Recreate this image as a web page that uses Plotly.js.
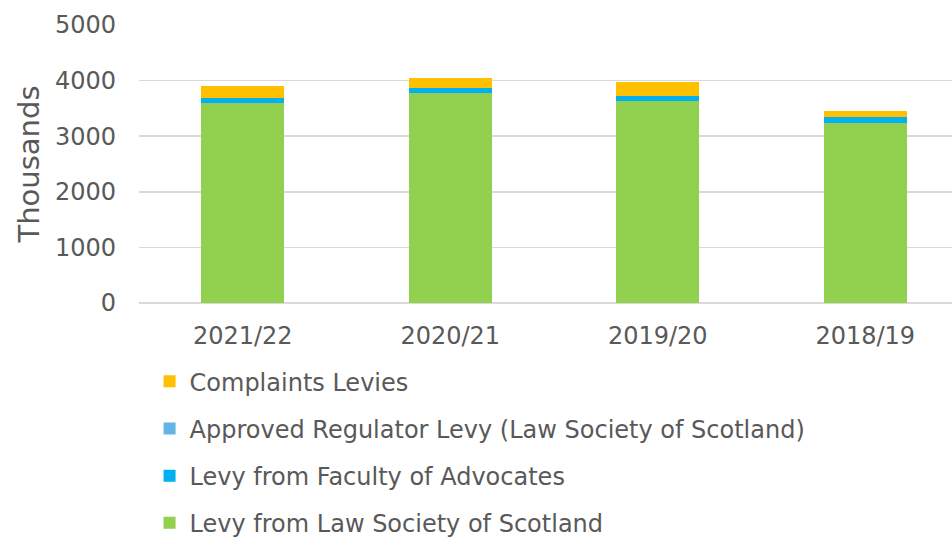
<!DOCTYPE html>
<html>
<head>
<meta charset="utf-8">
<script src="https://cdn.plot.ly/plotly-3.0.1.min.js"></script>
<style>html,body{margin:0;padding:0;background:#fff;}#chart{width:952px;height:539px;}</style>
</head>
<body>
<div id="chart"></div>
<script>
var years = ["2021/22", "2020/21", "2019/20", "2018/19"];
var lawSociety = [3603, 3782, 3638, 3243];
var faculty = [77, 77, 77, 95];
var approvedRegulator = [8, 8, 8, 8];
var complaints = [208, 172, 256, 112];

var font = "DejaVu Sans, Verdana, sans-serif";
var textColor = "#595959";

function mk(name, vals, color, grp, rank) {
  return {type: "bar", name: name, x: years, y: vals, legendgroup: grp, legendrank: rank,
    marker: {color: color, line: {width: 0}}, width: 0.4, hoverinfo: "y+name"};
}
var data = [
  mk("Levy from Law Society of Scotland", lawSociety, "#92D050", "a", 4),
  mk("Levy from Faculty of Advocates", faculty, "#00B0F0", "b", 3),
  mk("Approved Regulator Levy (Law Society of Scotland)", approvedRegulator, "#62B5E5", "c", 2),
  mk("Complaints Levies", complaints, "#FFC000", "d", 1)
];
var layout = {
  width: 952, height: 539,
  margin: {l: 139, r: 0, t: 25, b: 236, autoexpand: false},
  barmode: "stack",
  paper_bgcolor: "#fff", plot_bgcolor: "#fff",
  font: {family: font, color: textColor, size: 24},
  xaxis: {type: "category", range: [-0.5, 3.418], showgrid: false, zeroline: false,
    showline: false, ticks: "", tickfont: {size: 24, color: textColor}, ticklabelstandoff: 16},
  yaxis: {range: [0, 5000], dtick: 1000, tick0: 0, showgrid: true, gridcolor: "#D9D9D9", gridwidth: 1.5,
    zeroline: true, zerolinecolor: "#D9D9D9", zerolinewidth: 1.5, showline: false, ticks: "",
    tickfont: {size: 24, color: textColor}, ticklabelstandoff: 22,
    title: {text: "Thousands", font: {size: 29, color: textColor}, standoff: 6}},
  showlegend: true,
  legend: {orientation: "v", x: 0.013, xanchor: "left", y: -0.202, yanchor: "top",
    traceorder: "grouped", tracegroupgap: 13, font: {size: 24, color: textColor},
    bgcolor: "rgba(0,0,0,0)"}
};
Plotly.newPlot("chart", data, layout, {displayModeBar: false, staticPlot: true});
</script>
</body>
</html>
